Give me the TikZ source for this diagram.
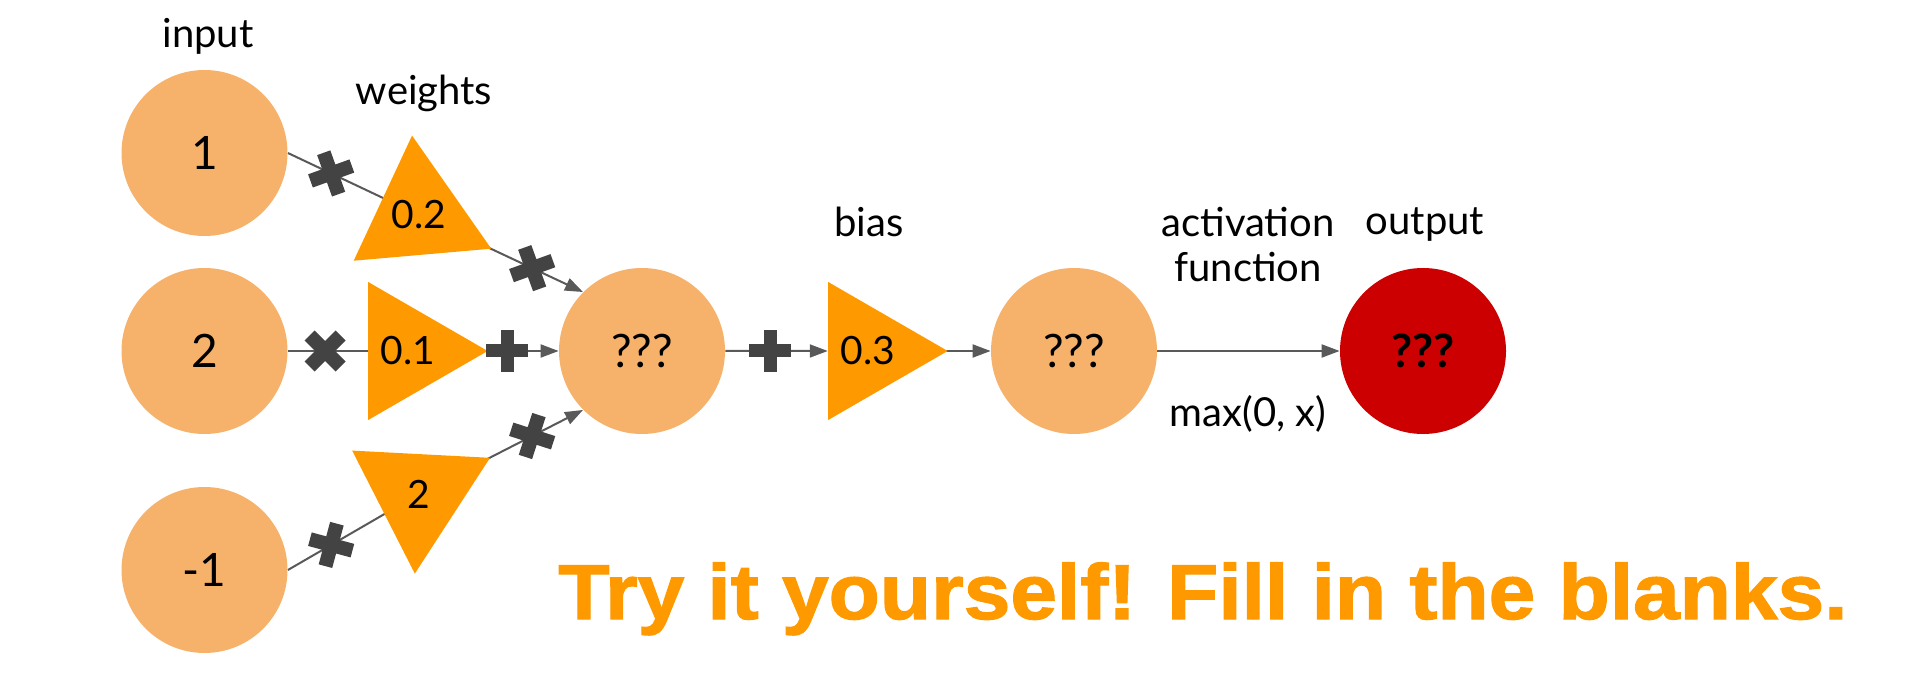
\documentclass[tikz,border=0pt]{standalone}
\usepackage{fontspec}
\setmainfont{Lato}
\newfontfamily\titlefont{Liberation Sans}[BoldFeatures={FakeBold=1.5}]
\usetikzlibrary{shapes.geometric,arrows.meta,backgrounds,calc}
\definecolor{circ}{HTML}{F6B26B}
\definecolor{tri}{HTML}{FF9900}
\definecolor{outred}{HTML}{CC0000}
\definecolor{opgray}{HTML}{434343}
\definecolor{linegray}{HTML}{595959}
\begin{document}
\begin{tikzpicture}[x=0.5pt,y=-0.5pt,
  neuron/.style={circle, fill=circ, minimum size=83pt, inner sep=0pt, font=\fontsize{23}{27}\selectfont},
  weight/.style={regular polygon, regular polygon sides=3, fill=tri, minimum size=79.7pt, inner sep=0pt, font=\fontsize{19.5}{23}\selectfont},
  lbl/.style={font=\fontsize{20}{24}\selectfont, anchor=base},
  conn/.style={draw=linegray, line width=1pt},
  arr/.style={conn, -{Triangle[length=9pt,width=6.5pt]}},
  pics/mulop/.style={code={\draw[opgray, line width=7pt, rotate=45] (-22,0)--(22,0) (0,-22)--(0,22);}},
  pics/addop/.style={code={\draw[opgray, line width=6.5pt] (-21,0)--(21,0) (0,-21)--(0,21);}},
]
\useasboundingbox (0,0) rectangle (1910,689);
% neurons
\node[neuron] (c1) at (204.5,153) {1};
\node[neuron] (c2) at (204.5,351) {2};
\node[neuron] (c3) at (204.5,570) {-1};
\node[neuron] (sum) at (642,351) {???};
\node[neuron] (act) at (1074,351) {???};
\node[neuron, fill=outred, font=\fontsize{23}{27}\selectfont\bfseries] (out) at (1423,351) {???};
% weights and bias
\node[weight, shape border rotate=5] (t02) at (419,215) {0.2};
\node[weight, shape border rotate=-90] (t01) at (408,351) {0.1};
\node[weight, shape border rotate=177] (t2) at (419,494) {2};
\node[weight, shape border rotate=-90] (t03) at (868,351) {0.3};
% labels
\node[lbl] (linput) at (208,48) {input};
\node[lbl] (lweights) at (424,105) {weights};
\node[lbl] (lbias) at (869,237) {bias};
\node[lbl] (lact1) at (1248,237) {activation};
\node[lbl] (lact2) at (1248,282) {function};
\node[lbl] (loutput) at (1425,235) {output};
\node[lbl] (lmax) at (1248,426) {max(0, x)};
\node[anchor=base west, text=tri, inner sep=0pt, font=\titlefont\bfseries\fontsize{39}{45}\selectfont] (title) at (558,619) {\scalebox{1.075}[1]{Try it yourself! Fill in the blanks.}};
% connectors
\begin{scope}[on background layer]
\draw[conn] (c1.east) -- (t02.center);
\draw[arr] (t02.center) -- (sum.135);
\draw[conn] (c2.east) -- (t01.center);
\draw[arr] (t01.center) -- (sum.west);
\draw[conn] (c3.east) -- (t2.center);
\draw[arr] (t2.center) -- (sum.225);
\draw[arr] (sum.east) -- (t03.180);
\draw[arr] (t03.center) -- (act.west);
\draw[arr] (act.east) -- (out.west);
\end{scope}
% operators
\pic[rotate=-25.2] at ($(c1.east)!0.33!(t02.center)$) {mulop};
\pic[rotate=-25.2] at ($(t02.center)!0.69!(sum.135)$) {mulop};
\pic at ($(c2.east)!0.31!(t01.center)$) {mulop};
\pic at ($(t01.center)!0.66!(sum.west)$) {addop};
\pic[rotate=29.9] at ($(c3.east)!0.33!(t2.center)$) {mulop};
\pic[rotate=27.1] at ($(t2.center)!0.69!(sum.225)$) {mulop};
\pic at ($(sum.east)!0.44!(t03.180)$) {addop};
\end{tikzpicture}
\end{document}
